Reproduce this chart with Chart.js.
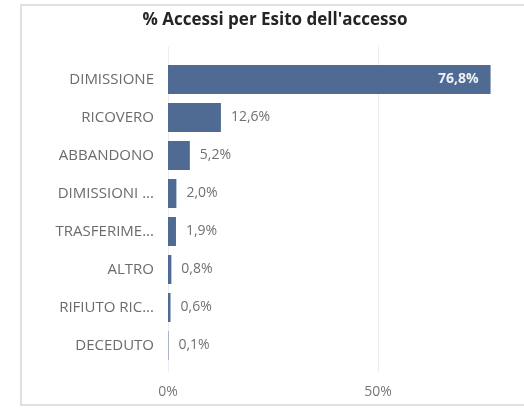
<!DOCTYPE html>
<html>
<head>
<meta charset="utf-8">
<script src="https://cdn.jsdelivr.net/npm/chart.js@4"></script>
<style>
html,body{margin:0;padding:0;background:#fff;overflow:hidden;}
#frame{position:absolute;left:20px;top:4px;width:520px;height:402px;border:2px solid #e0e0e0;box-sizing:border-box;}
#wrap{position:absolute;left:0;top:0;width:524px;height:411px;}
</style>
</head>
<body>
<div id="frame"></div>
<div id="wrap"><canvas id="c" width="524" height="411"></canvas></div>
<script>
const categories = ["DIMISSIONE","RICOVERO","ABBANDONO","DIMISSIONI ...","TRASFERIME...","ALTRO","RIFIUTO RIC...","DECEDUTO"];
const values = [76.8, 12.6, 5.2, 2.0, 1.9, 0.8, 0.6, 0.1];
const xTickValues = [0, 50];
const chartTitle = "% Accessi per Esito dell'accesso";

const fmt = v => v.toFixed(1).replace('.', ',') + '%';
const FONT = "'Open Sans', 'Noto Sans', sans-serif";

const gridPlugin = {
  id: 'grid',
  beforeDatasetsDraw(chart) {
    const ctx = chart.ctx, xs = chart.scales.x, area = chart.chartArea;
    ctx.save();
    ctx.strokeStyle = '#ececec';
    ctx.lineWidth = 1;
    xTickValues.forEach(v => {
      const x = Math.round(xs.getPixelForValue(v)) + 0.5;
      ctx.beginPath();
      ctx.moveTo(x, area.top - 14);
      ctx.lineTo(x, area.bottom + 8);
      ctx.stroke();
    });
    ctx.restore();
  }
};

const labelPlugin = {
  id: 'vlabels',
  afterDatasetsDraw(chart) {
    const ctx = chart.ctx, meta = chart.getDatasetMeta(0), area = chart.chartArea;
    ctx.save();
    ctx.textBaseline = 'middle';
    meta.data.forEach((bar, i) => {
      const txt = fmt(values[i]);
      ctx.font = "14px " + FONT;
      const w = ctx.measureText(txt).width;
      if (bar.x + 10 + w > area.right) {
        ctx.font = "bold 14px " + FONT;
        ctx.fillStyle = '#eef2f7';
        ctx.textAlign = 'right';
        ctx.fillText(txt, bar.x - 12, bar.y);
      } else {
        ctx.fillStyle = '#707070';
        ctx.textAlign = 'left';
        ctx.fillText(txt, bar.x + 10, bar.y);
      }
    });
    ctx.restore();
  }
};

new Chart(document.getElementById('c'), {
  type: 'bar',
  data: {
    labels: categories,
    datasets: [{
      data: values,
      backgroundColor: '#4f6b93',
      borderWidth: 0,
      barPercentage: 0.76,
      categoryPercentage: 1.0
    }]
  },
  options: {
    indexAxis: 'y',
    responsive: false,
    animation: false,
    devicePixelRatio: 1,
    layout: { padding: { left: 46, right: 20, top: 0, bottom: 0 } },
    plugins: {
      legend: { display: false },
      tooltip: { enabled: false },
      title: {
        display: true,
        text: chartTitle,
        color: '#252423',
        font: { family: FONT, size: 17, weight: 'bold', lineHeight: 1.2 },
        padding: { top: 9.8, bottom: 30.3 }
      }
    },
    scales: {
      x: {
        min: 0,
        max: 80,
        border: { display: false },
        grid: { display: false },
        afterBuildTicks(scale) { scale.ticks = xTickValues.map(v => ({ value: v })); },
        afterFit(scale) { scale.height = 411 - 364.5; },
        ticks: {
          color: '#777',
          font: { family: FONT, size: 14 },
          padding: 11,
          maxRotation: 0,
          callback: v => v + '%'
        }
      },
      y: {
        border: { display: false },
        grid: { display: false },
        afterFit(scale) { scale.width = 168 - 46; },
        ticks: {
          color: '#6b6b6b',
          font: { family: FONT, size: 15 },
          padding: 6
        }
      }
    }
  },
  plugins: [gridPlugin, labelPlugin]
});
</script>
</body>
</html>
